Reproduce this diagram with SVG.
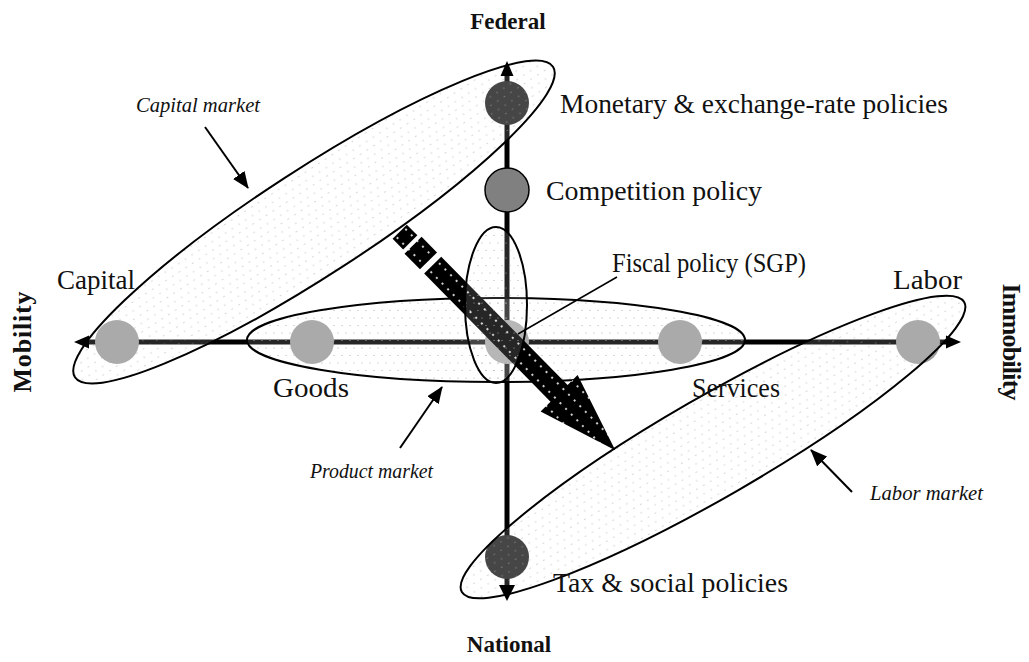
<svg xmlns="http://www.w3.org/2000/svg" width="1029" height="662" viewBox="0 0 1029 662">
<style>
.lbl{font-family:"Liberation Serif","Times New Roman",serif;font-size:27px;fill:#111}
.ttl{font-family:"Liberation Serif","Times New Roman",serif;font-size:23px;font-weight:bold;fill:#111}
.mkt{font-family:"Liberation Serif","Times New Roman",serif;font-size:20px;font-style:italic;fill:#111}
.ell{fill:url(#dots);stroke:#000;stroke-width:2}
.axis{stroke:#000;stroke-width:5;fill:none}
.lead{stroke:#000;stroke-width:2;fill:none}
.light{fill:#9b9b9b}
.dark{fill:#262626}
</style>
<defs>
<pattern id="dots" width="8" height="15" patternUnits="userSpaceOnUse">
<rect width="8" height="15" fill="#fff" fill-opacity="0.15"/>
<circle cx="2" cy="3" r="0.6" fill="#aaa"/>
<circle cx="6" cy="10.5" r="0.6" fill="#aaa"/>
</pattern>
<pattern id="adots" width="8" height="12" patternUnits="userSpaceOnUse" x="0" y="0">
<rect width="8" height="12" fill="#000"/>
<circle cx="4" cy="6" r="1.1" fill="#fff"/>
</pattern>
<marker id="ah" markerWidth="18" markerHeight="14" refX="16" refY="7" orient="auto" markerUnits="userSpaceOnUse">
<path d="M0,0 L17,7 L0,14 Z" fill="#000"/>
</marker>
</defs>

<g id="connectors">
<line class="axis" x1="507" y1="72" x2="507" y2="590"/>
<line class="axis" x1="85" y1="342" x2="950" y2="342"/>
</g>

<g id="node-monetary"><circle class="dark" cx="507" cy="103" r="22"/></g>
<g id="node-competition"><circle cx="507" cy="190" r="22" fill="#808080" stroke="#000" stroke-width="1.5"/></g>
<g id="node-tax"><circle class="dark" cx="507" cy="557" r="22"/></g>
<g id="node-capital"><circle class="light" cx="117" cy="342" r="22"/></g>
<g id="node-goods"><circle class="light" cx="312" cy="342" r="22"/></g>
<g id="node-fiscal"><circle class="light" cx="507" cy="342" r="22"/></g>
<g id="node-services"><circle class="light" cx="680" cy="342" r="22"/></g>
<g id="node-labor"><circle class="light" cx="918" cy="342" r="22"/></g>

<g id="capital-market"><ellipse class="ell" cx="314" cy="222" rx="285" ry="53" transform="rotate(-33 314 222)"/></g>
<g id="labor-market"><ellipse class="ell" cx="713" cy="447" rx="290" ry="50" transform="rotate(-30 713 447)"/></g>
<g id="product-market"><ellipse class="ell" cx="496" cy="340" rx="249" ry="42"/></g>

<g id="big-arrow" transform="translate(399,231) rotate(45.4)">
<rect x="1" y="-10" width="15" height="20" fill="url(#adots)"/>
<rect x="20" y="-12" width="22" height="24" fill="url(#adots)"/>
<polygon points="48,-12 228,-12 228,-26 308,0 228,26 228,12 48,12" fill="url(#adots)"/>
</g>

<g id="fiscal-ellipse"><ellipse class="ell" cx="496" cy="305" rx="31" ry="78"/></g>

<g id="axis-heads">
<polygon points="507,61 500.5,76 513.5,76" fill="#000"/>
<polygon points="507,601 499,585 515,585" fill="#000"/>
<polygon points="74,342 89,335.5 89,348.5" fill="#000"/>
<polygon points="961,342 946,335.5 946,348.5" fill="#000"/>
</g>

<g id="leaders">
<line class="lead" x1="205" y1="127" x2="248" y2="188" marker-end="url(#ah)"/>
<line class="lead" x1="400" y1="448" x2="442" y2="387" marker-end="url(#ah)"/>
<line class="lead" x1="852" y1="492" x2="811" y2="450" marker-end="url(#ah)"/>
<line stroke="#000" stroke-width="1.5" x1="518" y1="334" x2="617" y2="277"/>
</g>

<g id="texts">
<text class="ttl" x="508" y="29" text-anchor="middle">Federal</text>
<text class="ttl" x="509" y="652" text-anchor="middle">National</text>
<text class="ttl" transform="translate(31,342) rotate(-90)" text-anchor="middle" style="font-size:26px" textLength="101">Mobility</text>
<text class="ttl" transform="translate(1003,342) rotate(90)" text-anchor="middle" style="font-size:26px" textLength="117">Immobility</text>
<text class="lbl" x="560" y="113" textLength="388" lengthAdjust="spacingAndGlyphs">Monetary &amp; exchange-rate policies</text>
<text class="lbl" x="546" y="200" textLength="216" lengthAdjust="spacingAndGlyphs">Competition policy</text>
<text class="lbl" x="612" y="272" textLength="194" lengthAdjust="spacingAndGlyphs">Fiscal policy (SGP)</text>
<text class="lbl" x="57" y="289" textLength="78" lengthAdjust="spacingAndGlyphs">Capital</text>
<text class="lbl" x="893" y="289" textLength="69" lengthAdjust="spacingAndGlyphs">Labor</text>
<text class="lbl" x="273" y="397" textLength="76" lengthAdjust="spacingAndGlyphs">Goods</text>
<text class="lbl" x="692" y="397" textLength="88" lengthAdjust="spacingAndGlyphs">Services</text>
<text class="lbl" x="553" y="592" textLength="235" lengthAdjust="spacingAndGlyphs">Tax &amp; social policies</text>
<text class="mkt" x="136" y="112" textLength="124" lengthAdjust="spacingAndGlyphs">Capital market</text>
<text class="mkt" x="310" y="478" textLength="123" lengthAdjust="spacingAndGlyphs">Product market</text>
<text class="mkt" x="870" y="500" textLength="113" lengthAdjust="spacingAndGlyphs">Labor market</text>
</g>
</svg>
